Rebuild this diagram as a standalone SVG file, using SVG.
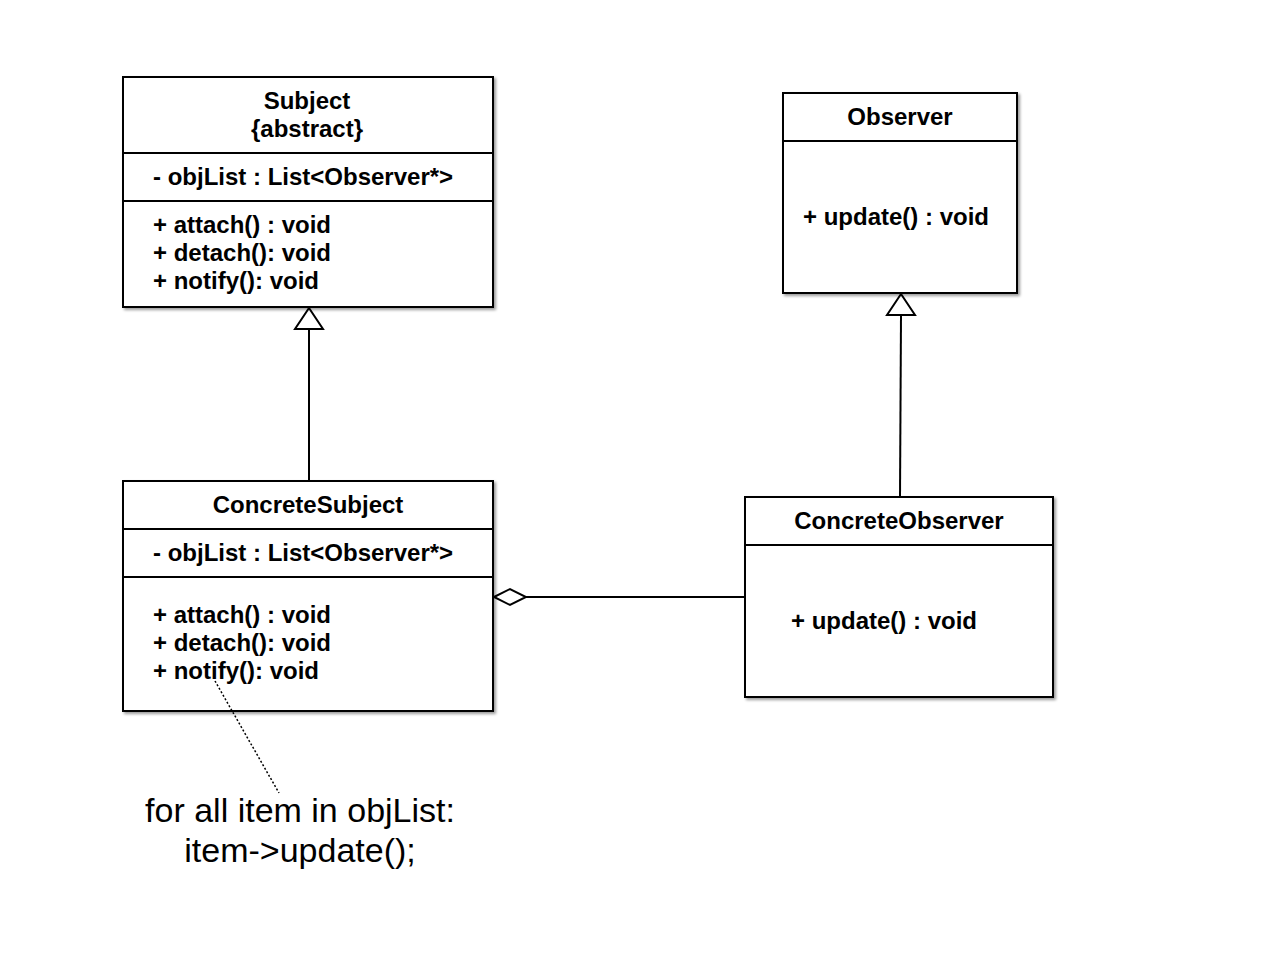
<svg xmlns="http://www.w3.org/2000/svg" width="1280" height="960" viewBox="0 0 1280 960">
<defs>
<filter id="sh" x="-5%" y="-5%" width="115%" height="115%">
<feGaussianBlur in="SourceAlpha" stdDeviation="1.5"/>
<feOffset dx="2" dy="2" result="b"/>
<feComponentTransfer><feFuncA type="linear" slope="0.4"/></feComponentTransfer>
<feMerge><feMergeNode/><feMergeNode in="SourceGraphic"/></feMerge>
</filter>
<style>
.box{fill:#fff;stroke:#000;stroke-width:2}
.div{stroke:#000;stroke-width:2}
.t{font-family:"Liberation Sans",Arial,sans-serif;font-weight:bold;font-size:24px;fill:#000}
.c{text-anchor:middle}
.ln{stroke:#000;stroke-width:2;fill:none}
.note{font-family:"Liberation Sans",Arial,sans-serif;font-size:34px;fill:#000;text-anchor:middle}
</style>
</defs>
<rect width="1280" height="960" fill="#fff"/>
<g id="Subject">
<rect class="box" x="123" y="77" width="370" height="230" filter="url(#sh)"/>
<line class="div" x1="123" y1="153" x2="493" y2="153"/>
<line class="div" x1="123" y1="201" x2="493" y2="201"/>
<text class="t c" x="307" y="109">Subject</text>
<text class="t c" x="307" y="137">{abstract}</text>
<text class="t" x="153" y="185">- objList : List&lt;Observer*&gt;</text>
<text class="t" x="153" y="233">+ attach() : void</text>
<text class="t" x="153" y="261">+ detach(): void</text>
<text class="t" x="153" y="289">+ notify(): void</text>
</g>
<g id="Observer">
<rect class="box" x="783" y="93" width="234" height="200" filter="url(#sh)"/>
<line class="div" x1="783" y1="141" x2="1017" y2="141"/>
<text class="t c" x="900" y="125">Observer</text>
<text class="t" x="803" y="225">+ update() : void</text>
</g>
<g id="ConcreteSubject">
<rect class="box" x="123" y="481" width="370" height="230" filter="url(#sh)"/>
<line class="div" x1="123" y1="529" x2="493" y2="529"/>
<line class="div" x1="123" y1="577" x2="493" y2="577"/>
<text class="t c" x="308" y="513">ConcreteSubject</text>
<text class="t" x="153" y="561">- objList : List&lt;Observer*&gt;</text>
<text class="t" x="153" y="623">+ attach() : void</text>
<text class="t" x="153" y="651">+ detach(): void</text>
<text class="t" x="153" y="679">+ notify(): void</text>
</g>
<g id="ConcreteObserver">
<rect class="box" x="745" y="497" width="308" height="200" filter="url(#sh)"/>
<line class="div" x1="745" y1="545" x2="1053" y2="545"/>
<text class="t c" x="899" y="529">ConcreteObserver</text>
<text class="t" x="791" y="629">+ update() : void</text>
</g>
<g id="connectors">
<line class="ln" x1="309" y1="481" x2="309" y2="329"/>
<polygon class="ln" fill="#fff" points="309,308 295,329 323,329"/>
<line class="ln" x1="900" y1="497" x2="901" y2="315"/>
<polygon class="ln" fill="#fff" points="901,294 887,315 915,315"/>
<line class="ln" x1="526" y1="597" x2="745" y2="597"/>
<polygon class="ln" fill="#fff" points="494,597 510,589 526,597 510,605"/>
<line x1="215" y1="681" x2="279" y2="793" stroke="#000" stroke-width="1.5" stroke-dasharray="2,2"/>
</g>
<g id="note">
<text class="note" x="300" y="822">for all item in objList:</text>
<text class="note" x="300" y="862">item-&gt;update();</text>
</g>
</svg>
